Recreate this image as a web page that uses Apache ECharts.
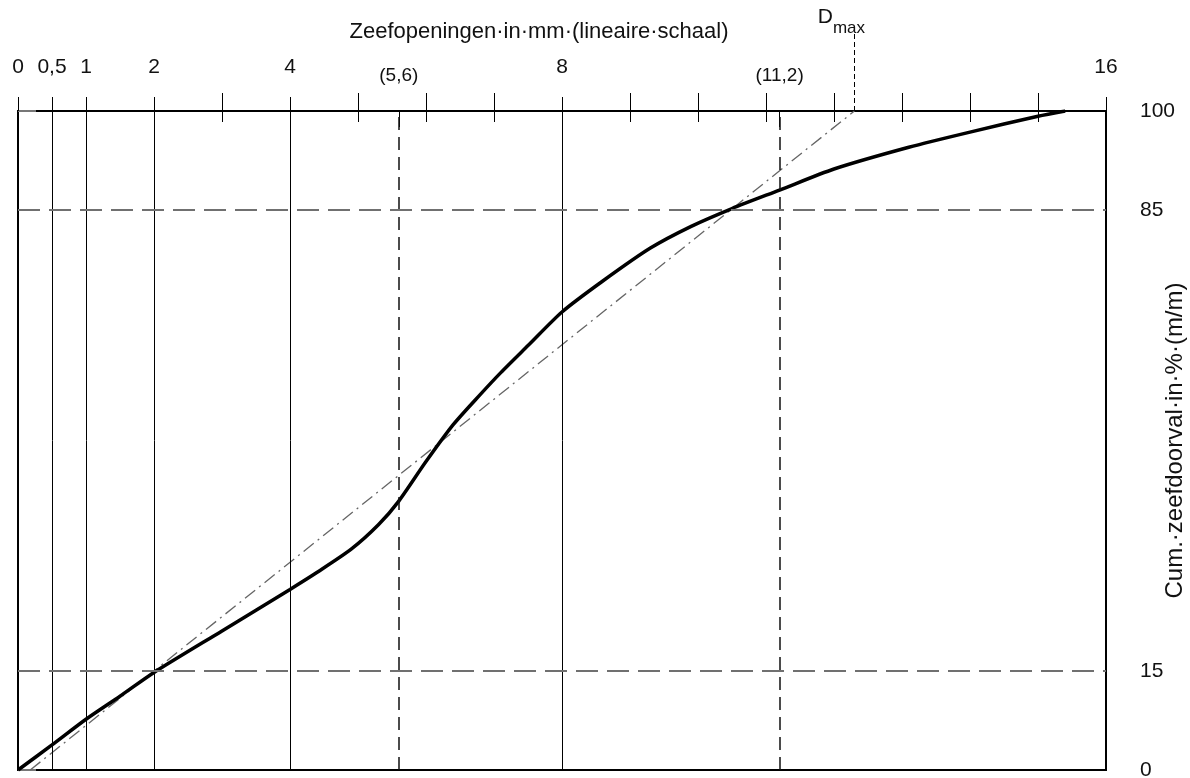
<!DOCTYPE html>
<html>
<head>
<meta charset="utf-8">
<script src="https://cdn.jsdelivr.net/npm/echarts@6/dist/echarts.min.js"></script>
<style>
  html, body { margin: 0; padding: 0; background: #fff; }
  #chart { width: 1190px; height: 778px; }
</style>
</head>
<body>
<div id="chart"></div>
<script>
// sieve curve
const sieveMm = [0, 0.5, 1, 1.5, 2, 3, 4, 4.4, 4.9, 5.3, 5.6, 6, 6.4, 6.8, 7.1, 7.5, 8, 8.6, 9.3, 9.9, 10.5, 11.2, 12, 13.1, 14, 15, 15.4];
const passingPct = [0, 3.8, 7.7, 11.2, 14.8, 21.1, 27.4, 30, 33.5, 37.2, 40.8, 46.8, 52.4, 57, 60.3, 64.4, 69.5, 74.2, 79.2, 82.5, 85.2, 88, 91.2, 94.5, 96.8, 99.2, 100];

// straight reference line (dash-dot) up to Dmax
const refLineMm = [0.18, 12.3];
const refLinePct = [0, 100];
const dMax = 12.3;

const labeledTicks = [0, 0.5, 1, 2, 4, 8, 16];
const minorTicks = [3, 5, 6, 7, 9, 10, 11, 12, 13, 14, 15];
const sieveMarks = [5.6, 11.2];
const gridSieves = [0.5, 1, 2, 4, 8];
const pctTicks = [0, 15, 85, 100];
const pctMarks = [15, 85];

const FONT = 'Liberation Sans, Arial, sans-serif';
const comma = v => String(v).replace('.', ',');

const chart = echarts.init(document.getElementById('chart'), null, { renderer: 'canvas' });

const baseX = {
  type: 'value', position: 'top', min: 0, max: 16,
  splitLine: { show: false },
  axisLine: { show: false }
};

chart.setOption({
  animation: false,
  backgroundColor: '#fff',
  textStyle: { fontFamily: FONT },
  grid: {
    left: 18, right: 84, top: 111, bottom: 8,
    outerBoundsMode: 'none', containLabel: false,
    show: true, borderColor: '#000', borderWidth: 2, backgroundColor: 'transparent'
  },
  xAxis: [
    Object.assign({}, baseX, {
      axisLine: { show: true, lineStyle: { color: '#000', width: 2 } },
      axisTick: { show: false },
      axisLabel: { show: true, customValues: labeledTicks, formatter: comma, margin: 33, fontSize: 21, color: '#111', fontFamily: FONT },
      name: 'Zeefopeningen·in·mm·(lineaire·schaal)',
      nameLocation: 'middle', nameGap: 68, nameMoveOverlap: false,
      nameTextStyle: { fontSize: 22, color: '#111', fontFamily: FONT, padding: [0, 46, 0, 0] }
    }),
    Object.assign({}, baseX, {
      axisTick: { show: true, customValues: labeledTicks, length: 14, lineStyle: { color: '#000', width: 1 } },
      axisLabel: { show: false }
    }),
    Object.assign({}, baseX, {
      axisTick: { show: true, customValues: minorTicks, length: 18, lineStyle: { color: '#000', width: 1 } },
      axisLabel: { show: false }
    }),
    Object.assign({}, baseX, {
      axisTick: { show: true, customValues: minorTicks, inside: true, length: 11, lineStyle: { color: '#000', width: 1 } },
      axisLabel: { show: false }
    }),
    Object.assign({}, baseX, {
      axisTick: { show: true, customValues: sieveMarks, inside: true, length: 16, lineStyle: { color: '#000', width: 1 } },
      axisLabel: {
        show: true, customValues: sieveMarks, formatter: v => '(' + comma(v) + ')',
        margin: 26, fontSize: 19, color: '#111', fontFamily: FONT
      }
    }),
    Object.assign({}, baseX, {
      axisTick: { show: true, customValues: [dMax], length: 78, lineStyle: { color: '#000', width: 1, type: [5, 3] } },
      axisLabel: {
        show: true, customValues: [dMax], formatter: () => '{d|D}{s|max}',
        margin: 74, padding: [0, 26, 0, 0],
        rich: {
          d: { fontSize: 21, color: '#111', fontFamily: FONT, verticalAlign: 'top', lineHeight: 30 },
          s: { fontSize: 17, color: '#111', fontFamily: FONT, verticalAlign: 'bottom', lineHeight: 30 }
        }
      }
    })
  ],
  yAxis: {
    type: 'value', position: 'right', min: 0, max: 100,
    splitLine: { show: false },
    axisLine: { show: false },
    axisTick: { show: true, customValues: pctTicks, length: 18, lineStyle: { color: '#777', width: 2 } },
    axisLabel: { show: true, customValues: pctTicks, margin: 34, fontSize: 21, color: '#111', fontFamily: FONT, align: 'left' },
    name: 'Cum.·zeefdoorval·in·%·(m/m)',
    nameLocation: 'middle', nameGap: 57, nameRotate: 90, nameMoveOverlap: false,
    nameTextStyle: { fontSize: 24, color: '#111', fontFamily: FONT }
  },
  series: [
    {
      type: 'line', xAxisIndex: 0, silent: true,
      data: [],
      markLine: {
        silent: true, symbol: 'none', label: { show: false },
        data: gridSieves.map(v => ({ xAxis: v, lineStyle: { color: '#000', width: 1, type: 'solid' } }))
          .concat(sieveMarks.map(v => ({ xAxis: v, lineStyle: { color: '#111', width: 1.5, type: [13, 7] } })))
          .concat(pctMarks.map(v => ({ yAxis: v, lineStyle: { color: '#707070', width: 2, type: [22, 9] } })))
      }
    },
    {
      type: 'line', xAxisIndex: 0, silent: true, symbol: 'none',
      data: refLineMm.map((x, i) => [x, refLinePct[i]]),
      lineStyle: { color: '#666', width: 1.3, type: [13, 5, 2, 5] }
    },
    {
      type: 'line', xAxisIndex: 0, silent: true, symbol: 'none', smooth: 0.25,
      data: sieveMm.map((x, i) => [x, passingPct[i]]),
      lineStyle: { color: '#000', width: 3.5 }
    }
  ]
});
</script>
</body>
</html>
